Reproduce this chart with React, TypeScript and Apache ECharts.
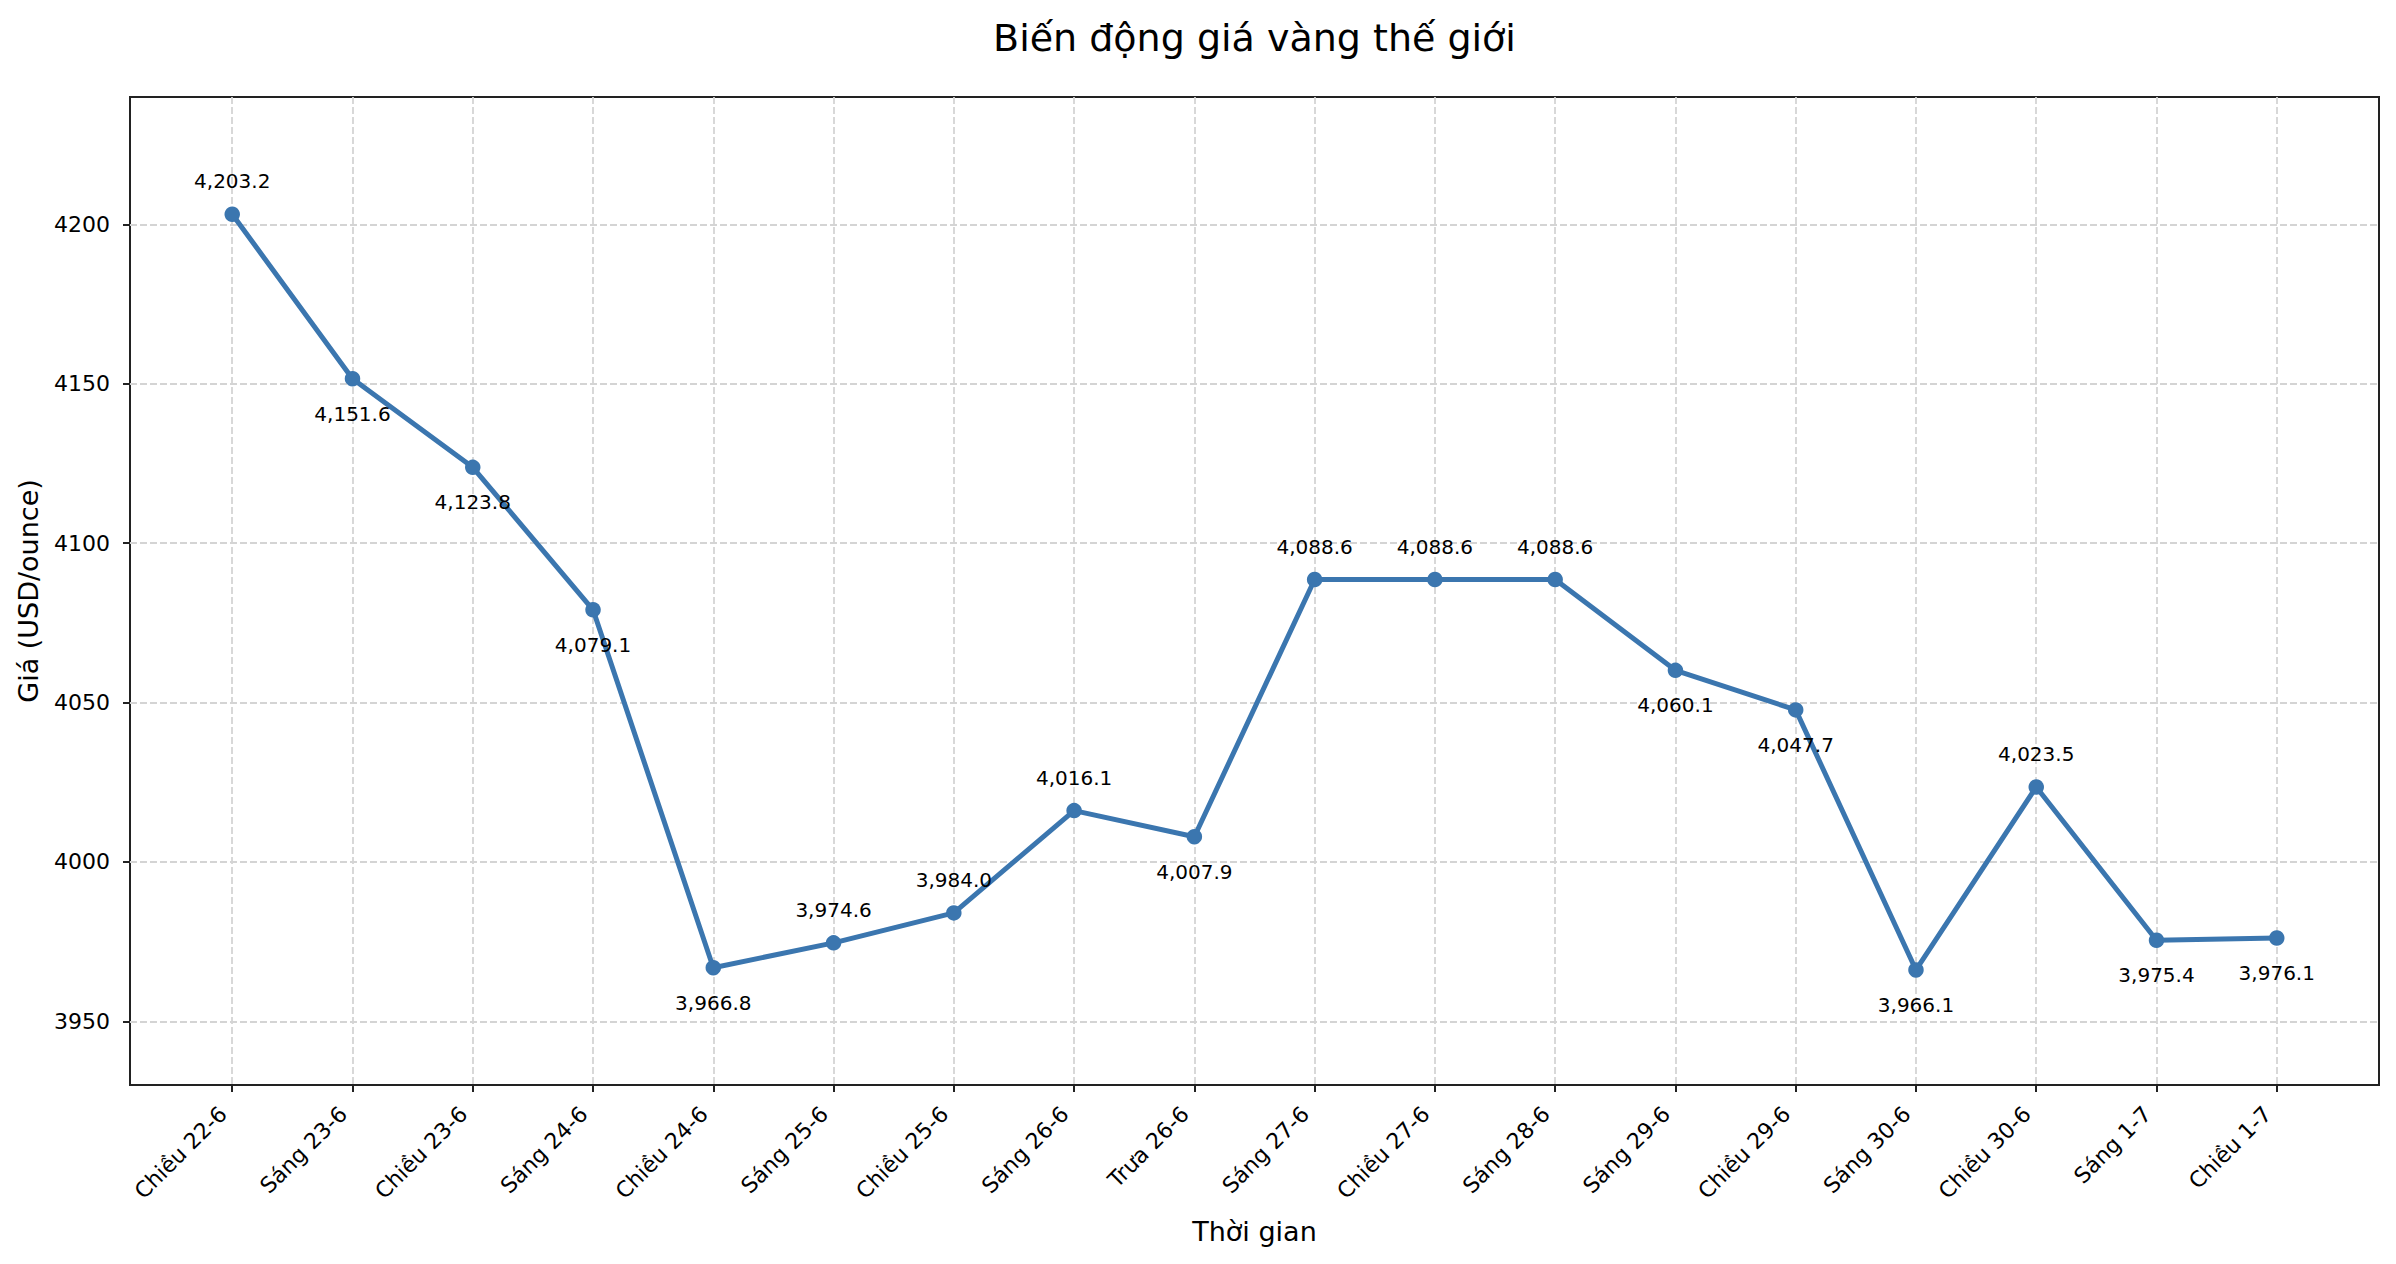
import React, { useEffect, useRef } from "react";
import * as echarts from "echarts";

// Thời điểm quan sát giá vàng thế giới
const categories = [
  "Chiều 22-6",
  "Sáng 23-6",
  "Chiều 23-6",
  "Sáng 24-6",
  "Chiều 24-6",
  "Sáng 25-6",
  "Chiều 25-6",
  "Sáng 26-6",
  "Trưa 26-6",
  "Sáng 27-6",
  "Chiều 27-6",
  "Sáng 28-6",
  "Sáng 29-6",
  "Chiều 29-6",
  "Sáng 30-6",
  "Chiều 30-6",
  "Sáng 1-7",
  "Chiều 1-7",
];

// Giá (USD/ounce)
const prices = [
  4203.2, 4151.6, 4123.8, 4079.1, 3966.8, 3974.6, 3984.0, 4016.1, 4007.9,
  4088.6, 4088.6, 4088.6, 4060.1, 4047.7, 3966.1, 4023.5, 3975.4, 3976.1,
];

// Vị trí nhãn giá so với điểm
const labelSides = [
  "above", "below", "below", "below", "below", "above", "above", "above", "below",
  "above", "above", "above", "below", "below", "below", "above", "below", "below",
];

const yTicks = [3950, 4000, 4050, 4100, 4150, 4200];

const FONT = "DejaVu Sans";
const LINE_COLOR = "#3b76af";

const fmt = (v: number) =>
  v.toLocaleString("en-US", { minimumFractionDigits: 1, maximumFractionDigits: 1 });

export default function App() {
  const ref = useRef<HTMLDivElement>(null);

  useEffect(() => {
    if (!ref.current) return;
    const chart = echarts.init(ref.current, undefined, { renderer: "svg" });
    const xIdx = categories.map((_, i) => i);
    const gridLine = { show: true, lineStyle: { color: "#d4d4d4", width: 1.8, type: [7, 3] as any } };

    chart.setOption({
      animation: false,
      backgroundColor: "#ffffff",
      textStyle: { fontFamily: FONT },
      grid: {
        left: 130,
        top: 97,
        width: 2249,
        height: 988,
        show: true,
        borderColor: "#222",
        borderWidth: 2,
        backgroundColor: "transparent",
      },
      graphic: [
        {
          type: "text",
          x: 1254.5,
          y: 38,
          style: {
            text: "Biến động giá vàng thế giới",
            fontFamily: FONT,
            fontSize: 38,
            fill: "#000",
            align: "center",
            verticalAlign: "middle",
            textAlign: "center",
            textVerticalAlign: "middle",
          },
        },
      ],
      xAxis: {
        type: "value",
        min: -0.85,
        max: categories.length - 1 + 0.85,
        name: "Thời gian",
        nameLocation: "middle",
        nameGap: 133,
        nameTextStyle: { fontFamily: FONT, fontSize: 27, color: "#000" },
        axisLine: { show: false, onZero: false },
        axisTick: {
          show: true,
          customValues: xIdx,
          length: 7,
          lineStyle: { color: "#222", width: 2 },
        },
        axisLabel: {
          customValues: xIdx,
          rotate: 45,
          margin: 16,
          padding: [0, 13, 0, 0],
          fontFamily: FONT,
          fontSize: 22,
          color: "#000",
          formatter: (v: number) => categories[Math.round(v)] ?? "",
        },
        splitLine: gridLine,
      },
      yAxis: {
        type: "value",
        min: 3930,
        max: 4240,
        name: "Giá (USD/ounce)",
        nameLocation: "middle",
        nameGap: 88,
        nameTextStyle: { fontFamily: FONT, fontSize: 27, color: "#000" },
        axisLine: { show: false, onZero: false },
        axisTick: {
          show: true,
          customValues: yTicks,
          length: 7,
          lineStyle: { color: "#222", width: 2 },
        },
        axisLabel: {
          customValues: yTicks,
          margin: 20,
          fontFamily: FONT,
          fontSize: 22,
          color: "#000",
          formatter: (v: number) => String(v),
        },
        splitLine: gridLine,
      },
      series: [
        {
          type: "line",
          data: prices.map((p, i) => ({
            value: [i, p],
            label: { offset: [0, labelSides[i] === "above" ? -33 : 35] },
          })),
          lineStyle: { color: LINE_COLOR, width: 5 },
          itemStyle: { color: LINE_COLOR },
          symbol: "circle",
          symbolSize: 15.5,
          showAllSymbol: true,
          clip: false,
          label: {
            show: true,
            position: "inside",
            fontFamily: FONT,
            fontSize: 20,
            color: "#000",
            formatter: (p: any) => fmt(p.value[1]),
          },
          emphasis: { disabled: true },
        },
      ],
    });

    return () => chart.dispose();
  }, []);

  return (
    <div
      ref={ref}
      style={{ position: "fixed", left: 0, top: 0, width: 2396, height: 1264, background: "#fff" }}
    />
  );
}
